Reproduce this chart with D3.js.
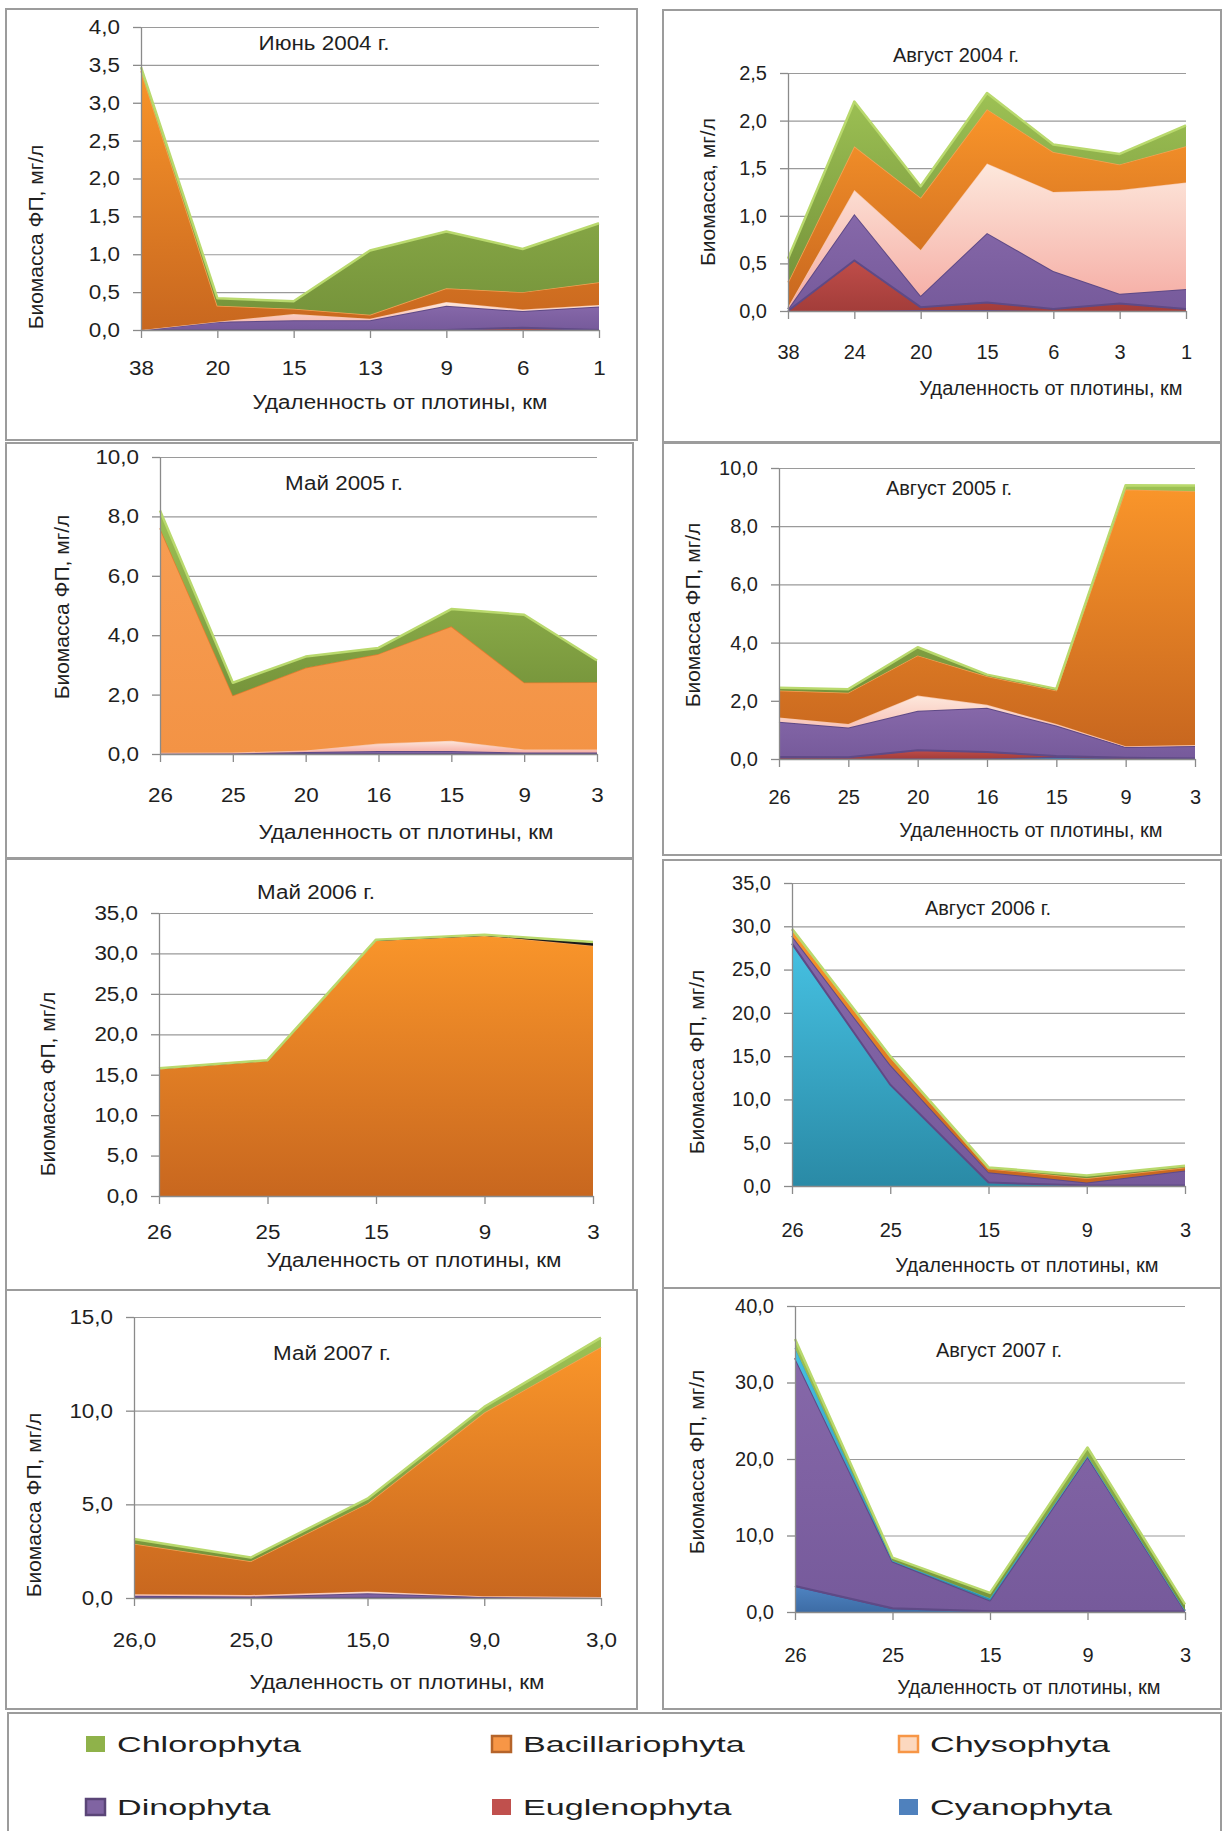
<!DOCTYPE html>
<html>
<head>
<meta charset="utf-8">
<title>Биомасса фитопланктона</title>
<style type="text/css">
body{ margin:0; background:#fff; }
svg text{ font-family: "Liberation Sans", Arial, sans-serif; fill:#1f1f1f; }
.grid line{ stroke:#9a9a9a; stroke-width:1.2; }
.grid path{ display:none; }
.axis path, .axis line{ fill:none; stroke:#8a8a8a; stroke-width:1.3; }
</style>
<script src="https://d3js.org/d3.v7.min.js"></script>
</head>
<body>
<script>
// every values array is ordered like its layers array: bottom -> top
// cya Cyanophyta, eug Euglenophyta, din Dinophyta, chy Chysophyta, bac Bacillariophyta, chl Chlorophyta
// cyl / blk = extra layers drawn in cyan / black, bcl = flat light orange Bacillariophyta

const jun2004Km = ["38", "20", "15", "13", "9", "6", "1"];
const jun2004Layers = ["eug", "din", "chy", "bac", "chl"];
const jun2004Values = [
  [0, 0, 0, 0, 0, 0.03, 0],
  [0, 0.11, 0.13, 0.13, 0.32, 0.22, 0.31],
  [0, 0, 0.08, 0.02, 0.05, 0.02, 0.02],
  [3.42, 0.21, 0.07, 0.05, 0.18, 0.23, 0.30],
  [0.05, 0.10, 0.10, 0.85, 0.75, 0.57, 0.78]
];

const aug2004Km = ["38", "24", "20", "15", "6", "3", "1"];
const aug2004Layers = ["cya", "eug", "din", "chy", "bac", "chl"];
const aug2004Values = [
  [0, 0, 0.01, 0.01, 0, 0, 0],
  [0, 0.53, 0.03, 0.08, 0.02, 0.08, 0.02],
  [0.02, 0.49, 0.12, 0.73, 0.40, 0.10, 0.21],
  [0.02, 0.25, 0.48, 0.73, 0.83, 1.09, 1.12],
  [0.26, 0.46, 0.55, 0.57, 0.42, 0.27, 0.38],
  [0.25, 0.47, 0.12, 0.17, 0.08, 0.11, 0.22]
];

const may2005Km = ["26", "25", "20", "16", "15", "9", "3"];
const may2005Layers = ["din", "chy", "bcl", "chl"];
const may2005Values = [
  [0.02, 0.02, 0.07, 0.10, 0.10, 0.05, 0.05],
  [0.02, 0.03, 0.05, 0.25, 0.35, 0.10, 0.10],
  [7.56, 1.92, 2.78, 3.02, 3.85, 2.26, 2.27],
  [0.60, 0.43, 0.38, 0.20, 0.58, 2.28, 0.73]
];

const aug2005Km = ["26", "25", "20", "16", "15", "9", "3"];
const aug2005Layers = ["cya", "eug", "din", "chy", "bac", "chl"];
const aug2005Values = [
  [0.02, 0.01, 0.02, 0.02, 0.08, 0.02, 0.01],
  [0.05, 0.05, 0.28, 0.22, 0.02, 0.02, 0.01],
  [1.21, 1.02, 1.36, 1.52, 1.05, 0.37, 0.43],
  [0.15, 0.12, 0.52, 0.10, 0.05, 0.03, 0.03],
  [0.92, 1.08, 1.38, 0.98, 1.15, 8.82, 8.72],
  [0.10, 0.12, 0.28, 0.06, 0.06, 0.15, 0.20]
];

const may2006Km = ["26", "25", "15", "9", "3"];
const may2006Layers = ["bac", "blk", "chl"];
const may2006Values = [
  [15.75, 16.75, 31.6, 32.2, 30.95],
  [0, 0, 0, 0.02, 0.40],
  [0.05, 0.05, 0.10, 0.10, 0.05]
];

const aug2006Km = ["26", "25", "15", "9", "3"];
const aug2006Layers = ["cyl", "din", "bac", "chl"];
const aug2006Values = [
  [28.0, 11.7, 0.40, 0.05, 0.05],
  [0.90, 2.30, 1.20, 0.35, 1.75],
  [0.70, 0.90, 0.40, 0.50, 0.35],
  [0.10, 0.10, 0.15, 0.30, 0.20]
];

const may2007Km = ["26,0", "25,0", "15,0", "9,0", "3,0"];
const may2007Layers = ["din", "chy", "bac", "chl"];
const may2007Values = [
  [0.12, 0.08, 0.25, 0.05, 0.02],
  [0.08, 0.08, 0.10, 0.05, 0.03],
  [2.70, 1.80, 4.70, 9.80, 13.35],
  [0.25, 0.20, 0.25, 0.30, 0.50]
];

const aug2007Km = ["26", "25", "15", "9", "3"];
const aug2007Layers = ["cya", "din", "cyl", "chl"];
const aug2007Values = [
  [3.40, 0.50, 0.10, 0.10, 0.05],
  [29.8, 6.10, 1.40, 20.2, 0.10],
  [1.30, 0.10, 0.30, 0.10, 0.05],
  [1.20, 0.40, 0.70, 1.10, 0.80]
];

const legendNames = ["Chlorophyta", "Bacillariophyta", "Chysophyta", "Dinophyta", "Euglenophyta", "Cyanophyta"];

const layerStyle = {
  cya: {top: "#4f84c2", bottom: "#3d6ca5", stroke: "#5b4886", sw: 2},
  cyl: {top: "#46c1e2", bottom: "#2a8aa6", stroke: "#3aa9c9", sw: 1.2},
  eug: {top: "#bf4d49", bottom: "#a33d3a", stroke: "#8f3532", sw: 1},
  din: {top: "#8668a9", bottom: "#765a9b", stroke: "#5f4a86", sw: 2, low: true},
  chy: {top: "#fde8dc", bottom: "#f5aba3", stroke: "#f8c4a6", sw: 1.2},
  bac: {top: "#f9952a", bottom: "#c8671f", stroke: "#f5a254", sw: 1.5},
  bcl: {top: "#f79d52", bottom: "#f39345", stroke: "#e07c2e", sw: 1.5},
  blk: {top: "#1b1b1b", bottom: "#0e0e0e", stroke: "#000", sw: 1},
  chl: {top: "#9dc154", bottom: "#76943b", stroke: "#b9d96d", sw: 2.5}
};

const legendStyle = {
  Chlorophyta: {fill: "#8fb24a", stroke: "none"},
  Bacillariophyta: {fill: "#f79646", stroke: "#b5642a"},
  Chysophyta: {fill: "#fcd8bf", stroke: "#f79646"},
  Dinophyta: {fill: "#8064a2", stroke: "#5a4577"},
  Euglenophyta: {fill: "#c0504d", stroke: "none"},
  Cyanophyta: {fill: "#4f81bd", stroke: "none"}
};

const yTitle = "Биомасса ФП, мг/л";
const xTitle = "Удаленность от плотины, км";

const panels = [
  {title: "Июнь 2004 г.", ylab: yTitle, km: jun2004Km, layers: jun2004Layers, values: jun2004Values,
   ymax: 4, step: 0.5, box: [6, 9, 637, 440], plot: [141, 27, 599, 330],
   titleXY: [324, 43], xlabXY: [400, 402], ylabXY: [35, 237], tickOff: 38, k: 1.12},
  {title: "Август 2004 г.", ylab: "Биомасса, мг/л", km: aug2004Km, layers: aug2004Layers, values: aug2004Values,
   ymax: 2.5, step: 0.5, box: [663, 10, 1221, 442], plot: [788, 73, 1186, 311],
   titleXY: [956, 55], xlabXY: [1051, 388], ylabXY: [707, 192], tickOff: 41, k: 1.0},
  {title: "Май 2005 г.", ylab: yTitle, km: may2005Km, layers: may2005Layers, values: may2005Values,
   ymax: 10, step: 2, box: [6, 443, 633, 858], plot: [160, 457, 597, 754],
   titleXY: [344, 483], xlabXY: [406, 832], ylabXY: [61, 607], tickOff: 41, k: 1.12},
  {title: "Август 2005 г.", ylab: yTitle, km: aug2005Km, layers: aug2005Layers, values: aug2005Values,
   ymax: 10, step: 2, box: [663, 443, 1221, 855], plot: [779, 468, 1195, 759],
   titleXY: [949, 488], xlabXY: [1031, 830], ylabXY: [692, 615], tickOff: 38, k: 1.0},
  {title: "Май 2006 г.", ylab: yTitle, km: may2006Km, layers: may2006Layers, values: may2006Values,
   ymax: 35, step: 5, box: [6, 859, 633, 1290], plot: [159, 913, 593, 1196],
   titleXY: [316, 892], xlabXY: [414, 1260], ylabXY: [47, 1084], tickOff: 36, k: 1.12},
  {title: "Август  2006 г.", ylab: yTitle, km: aug2006Km, layers: aug2006Layers, values: aug2006Values,
   ymax: 35, step: 5, box: [663, 860, 1221, 1288], plot: [792, 883, 1185, 1186],
   titleXY: [988, 908], xlabXY: [1027, 1265], ylabXY: [696, 1062], tickOff: 44, k: 1.0},
  {title: "Май 2007 г.", ylab: yTitle, km: may2007Km, layers: may2007Layers, values: may2007Values,
   ymax: 15, step: 5, box: [6, 1290, 637, 1709], plot: [134, 1317, 601, 1598],
   titleXY: [332, 1353], xlabXY: [397, 1682], ylabXY: [33, 1505], tickOff: 42, k: 1.12},
  {title: "Август 2007 г.", ylab: yTitle, km: aug2007Km, layers: aug2007Layers, values: aug2007Values,
   ymax: 40, step: 10, box: [663, 1288, 1221, 1709], plot: [795, 1306, 1185, 1612],
   titleXY: [999, 1350], xlabXY: [1029, 1687], ylabXY: [696, 1462], tickOff: 43, k: 1.0}
];

const svg = d3.select("body").append("svg").attr("width", 1222).attr("height", 1831);
const defs = svg.append("defs");
Object.entries(layerStyle).forEach(([id, s]) => {
  const lg = defs.append("linearGradient").attr("id", "g-" + id)
    .attr("x1", 0).attr("y1", 0).attr("x2", 0).attr("y2", 1);
  lg.append("stop").attr("offset", "0%").attr("stop-color", s.top);
  lg.append("stop").attr("offset", "100%").attr("stop-color", s.bottom);
});

const fmt = v => d3.format(".1f")(v).replace(".", ",");

// stretch or squeeze text horizontally, the source picture is distorted
function squeeze(sel, k) {
  sel.each(function() {
    const w = this.getComputedTextLength();
    d3.select(this).attr("textLength", w * k).attr("lengthAdjust", "spacingAndGlyphs");
  });
}

panels.forEach(p => {
  const g = svg.append("g");
  const [bx0, by0, bx1, by1] = p.box;
  g.append("rect").attr("x", bx0).attr("y", by0).attr("width", bx1 - bx0).attr("height", by1 - by0)
    .attr("fill", "#fff").attr("stroke", "#9c9c9c").attr("stroke-width", 2);

  const [left, top, right, bottom] = p.plot;
  const x = d3.scalePoint().domain(p.km).range([left, right]);
  const y = d3.scaleLinear().domain([0, p.ymax]).range([bottom, top]);
  const ticks = d3.range(0, p.ymax + p.step / 2, p.step);

  g.append("g").attr("class", "grid").attr("transform", `translate(${left},0)`)
    .call(d3.axisLeft(y).tickValues(ticks.slice(1)).tickSize(-(right - left)).tickFormat(""));

  const rows = p.km.map((k, i) => {
    const r = {km: k};
    p.layers.forEach((id, j) => r[id] = p.values[j][i]);
    return r;
  });
  const stacked = d3.stack().keys(p.layers)(rows);
  const area = d3.area().x(d => x(d.data.km)).y0(d => y(d[0])).y1(d => y(d[1]));
  const topLine = d3.line().x(d => x(d.data.km)).y(d => y(d[1]));
  const lowLine = d3.line().x(d => x(d.data.km)).y(d => y(d[0]));

  stacked.forEach(s => {
    const st = layerStyle[s.key];
    g.append("path").datum(s).attr("d", area).attr("fill", `url(#g-${s.key})`);
    if (st.low) {
      g.append("path").datum(s).attr("d", lowLine).attr("fill", "none")
        .attr("stroke", st.stroke).attr("stroke-width", st.sw);
    }
    g.append("path").datum(s).attr("d", topLine).attr("fill", "none")
      .attr("stroke", st.stroke).attr("stroke-width", st.sw).attr("stroke-linejoin", "round");
  });

  const yAxisG = g.append("g").attr("class", "axis").attr("transform", `translate(${left},0)`)
    .call(d3.axisLeft(y).tickValues(ticks).tickSize(8).tickSizeOuter(0).tickPadding(13).tickFormat(fmt));
  yAxisG.selectAll("text").style("font-size", "20px").call(squeeze, p.k);

  const xAxisG = g.append("g").attr("class", "axis").attr("transform", `translate(0,${bottom})`)
    .call(d3.axisBottom(x).tickSize(8).tickSizeOuter(0).tickPadding(p.tickOff - 15));
  xAxisG.selectAll("text").style("font-size", "20px").call(squeeze, p.k);

  g.append("text").attr("x", p.titleXY[0]).attr("y", p.titleXY[1])
    .attr("text-anchor", "middle").attr("dominant-baseline", "central")
    .style("font-size", "20px").text(p.title).call(squeeze, p.k);

  g.append("text").attr("x", p.xlabXY[0]).attr("y", p.xlabXY[1])
    .attr("text-anchor", "middle").attr("dominant-baseline", "central")
    .style("font-size", "20px").text(xTitle).call(squeeze, p.k);

  g.append("text").attr("transform", `translate(${p.ylabXY[0]},${p.ylabXY[1]}) rotate(-90)`)
    .attr("text-anchor", "middle").attr("dominant-baseline", "central")
    .style("font-size", "21px").text(p.ylab);
});

// legend
svg.append("rect").attr("x", 8).attr("y", 1713).attr("width", 1213).attr("height", 130)
  .attr("fill", "#fff").attr("stroke", "#9c9c9c").attr("stroke-width", 2);

const legCols = [86, 492, 899];
const legRows = [1744, 1807];
const legend = svg.append("g").selectAll("g").data(legendNames).enter().append("g")
  .attr("transform", (d, i) => `translate(${legCols[i % 3]},${legRows[Math.floor(i / 3)]})`);
legend.append("rect").attr("x", 0).attr("y", -8).attr("width", 19).attr("height", 16)
  .attr("fill", d => legendStyle[d].fill)
  .attr("stroke", d => legendStyle[d].stroke).attr("stroke-width", 2.5);
legend.append("text").attr("x", 31).attr("y", 0).attr("dominant-baseline", "central")
  .style("font-size", "22px").text(d => d).call(squeeze, 1.55);
</script>
</body>
</html>
